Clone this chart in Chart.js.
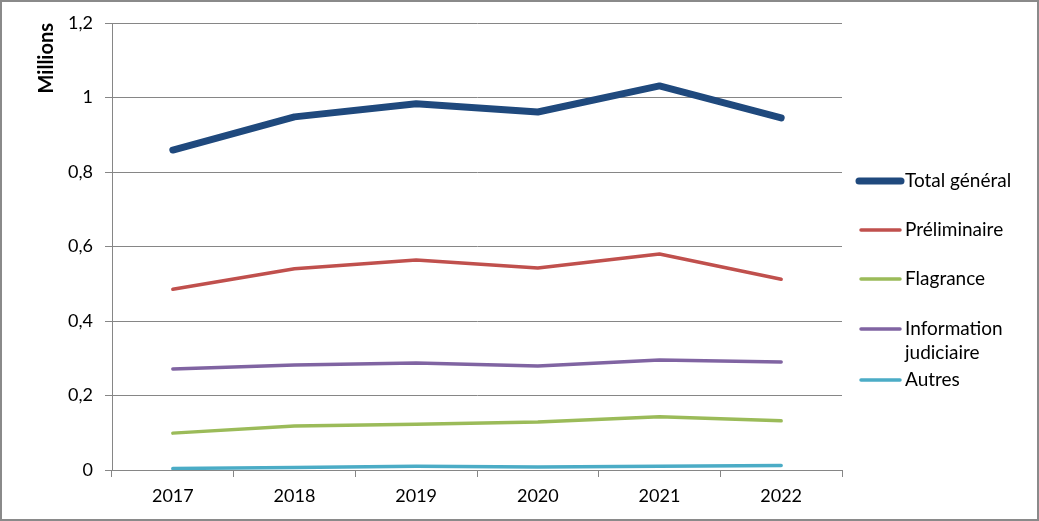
<!DOCTYPE html>
<html>
<head>
<meta charset="utf-8">
<script src="https://cdn.jsdelivr.net/npm/chart.js@4"></script>
<style>
  html, body { margin: 0; padding: 0; background: #fff; }
  #wrap { position: relative; width: 1039px; height: 521px; }
  #frame { position: absolute; left: 0; top: 0; width: 1039px; height: 521px;
           box-sizing: border-box; border: 2px solid #8a8a8a; pointer-events: none; }
</style>
</head>
<body>
<div id="wrap">
  <canvas id="myChart" width="1039" height="521"></canvas>
  <div id="frame"></div>
</div>
<script>
const years = ['2017', '2018', '2019', '2020', '2021', '2022'];
const totalGeneral = [0.859, 0.948, 0.983, 0.961, 1.031, 0.945];
const preliminaire = [0.485, 0.540, 0.564, 0.542, 0.580, 0.512];
const flagrance = [0.099, 0.118, 0.123, 0.129, 0.143, 0.132];
const informationJudiciaire = [0.271, 0.282, 0.287, 0.279, 0.295, 0.290];
const autres = [0.004, 0.007, 0.010, 0.008, 0.010, 0.012];
const yTickLabels = ['0', '0,2', '0,4', '0,6', '0,8', '1', '1,2'];

const FONT = 'Lato, Calibri, sans-serif';
const gridColor = '#868686';

// legend drawn by hand so the spacing and the wrapped label match
const sideLegend = {
  id: 'sideLegend',
  afterDraw(chart) {
    const ctx = chart.ctx;
    const rows = [181, 230, 279, 329, 380];
    ctx.save();
    ctx.font = '19px ' + FONT;
    ctx.fillStyle = '#000';
    ctx.textBaseline = 'middle';
    chart.data.datasets.forEach((ds, i) => {
      const y = rows[i];
      ctx.beginPath();
      ctx.strokeStyle = ds.borderColor;
      ctx.lineWidth = ds.borderWidth;
      ctx.lineCap = 'round';
      ctx.moveTo(i === 0 ? 859 : 861, y);
      ctx.lineTo(i === 0 ? 901 : 900, y);
      ctx.stroke();
      const lines = ds.label.split('\n');
      lines.forEach((t, j) => ctx.fillText(t, 905, y + j * 24));
    });
    ctx.restore();
  }
};

const ctx = document.getElementById('myChart').getContext('2d');
const myChart = new Chart(ctx, {
  type: 'line',
  data: {
    labels: years,
    datasets: [
      { label: 'Total général', data: totalGeneral, borderColor: '#1f497d', borderWidth: 7 },
      { label: 'Préliminaire', data: preliminaire, borderColor: '#c0504d', borderWidth: 3.5 },
      { label: 'Flagrance', data: flagrance, borderColor: '#9bbb59', borderWidth: 3.5 },
      { label: 'Information\njudiciaire', data: informationJudiciaire, borderColor: '#8064a2', borderWidth: 3.5 },
      { label: 'Autres', data: autres, borderColor: '#4bacc6', borderWidth: 3.5 }
    ].map(d => Object.assign(d, {
      pointRadius: 0,
      tension: 0,
      fill: false,
      borderCapStyle: 'round',
      borderJoinStyle: 'round'
    }))
  },
  options: {
    responsive: false,
    animation: false,
    events: [],
    layout: { padding: { top: 23, right: 197, left: 0, bottom: 0 } },
    plugins: {
      legend: { display: false },
      tooltip: { enabled: false }
    },
    scales: {
      x: {
        offset: true,
        afterFit: s => { s.height = 51; },
        grid: { offset: true, drawOnChartArea: false, drawTicks: true, tickLength: 7, color: gridColor },
        border: { color: gridColor, width: 1 },
        ticks: { color: '#000', font: { family: FONT, size: 18 }, padding: 8 }
      },
      y: {
        min: 0,
        max: 1.2,
        afterFit: s => { s.width = 112; },
        ticks: {
          stepSize: 0.2,
          color: '#000',
          font: { family: FONT, size: 18 },
          padding: 12,
          callback: (v, i) => yTickLabels[i]
        },
        grid: { color: gridColor, tickLength: 7 },
        border: { color: gridColor, width: 1 },
        title: {
          display: true,
          text: 'Millions',
          align: 'end',
          color: '#000',
          font: { family: FONT, size: 20, weight: 'bold' },
          padding: { top: 35, bottom: 0 }
        }
      }
    }
  },
  plugins: [sideLegend]
});
</script>
</body>
</html>
